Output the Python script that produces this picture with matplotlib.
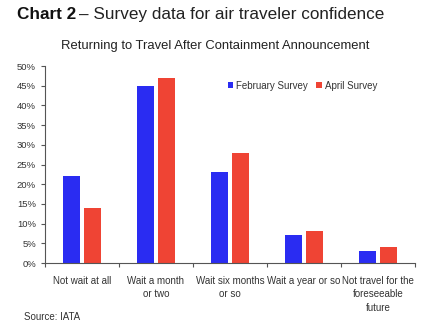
import numpy as np
import matplotlib
matplotlib.use('Agg')
import matplotlib.pyplot as plt
from matplotlib.ticker import PercentFormatter

categories = ["Not wait at all", "Wait a month\nor two", "Wait six months\nor so",
              "Wait a year or so", "Not travel for the\nforeseeable\nfuture"]
feb = [22, 45, 23, 7, 3]
apr = [14, 47, 28, 8, 4]
series = ["February Survey", "April Survey"]

BLUE, RED = '#2a2cf2', '#ef4434'
plt.rcParams['font.family'] = ['Liberation Sans', 'DejaVu Sans']

fig = plt.figure(figsize=(4.46, 3.30), dpi=100)
ax = fig.add_axes([0.101, 0.203, 0.829, 0.597])

x = np.arange(len(categories))
w = 0.23
ax.bar(x - 0.145, feb, w, color=BLUE, label=series[0])
ax.bar(x + 0.145, apr, w, color=RED, label=series[1])

ax.set_xlim(-0.5, len(categories) - 0.5)
ax.set_ylim(0, 50)
ax.set_yticks(range(0, 51, 5))
ax.yaxis.set_major_formatter(PercentFormatter(decimals=0))
# category boundaries get the tick marks, labels sit in the middle
ax.set_xticks(np.arange(len(categories) + 1) - 0.5, minor=False)
ax.set_xticklabels([])
ax.set_xticks(x, minor=True)
ax.set_xticklabels(categories, minor=True, fontsize=7, color='#333333', va='top',
                   linespacing=1.45)
ax.tick_params(axis='x', which='minor', length=0, pad=9)
ax.tick_params(axis='x', which='major', length=3, direction='out', color='#555555')
ax.tick_params(axis='y', labelsize=6.8, labelcolor='#333333', length=3, color='#555555')
for s in ['top', 'right']:
    ax.spines[s].set_visible(False)
for s in ['left', 'bottom']:
    ax.spines[s].set_color('#555555')
    ax.spines[s].set_linewidth(0.8)

ax.legend(loc='upper left', bbox_to_anchor=(0.47, 0.97), ncol=2, frameon=False,
          fontsize=7, handlelength=0.6, handleheight=0.6, handletextpad=0.3,
          columnspacing=0.8, labelcolor='#333333')

fig.text(0.038, 0.955, "Chart 2", fontsize=12.3, fontweight='bold',
         color='#111111', va='center')
fig.text(0.177, 0.955, "\u2013 Survey data for air traveler confidence", fontsize=12.3,
         color='#222222', va='center')
fig.text(0.482, 0.862, "Returning to Travel After Containment Announcement", fontsize=9.4,
         color='#222222', ha='center', va='center')
fig.text(0.054, 0.038, "Source: IATA", fontsize=7, color='#333333', va='center')

fig.savefig('out.png', dpi=100)
